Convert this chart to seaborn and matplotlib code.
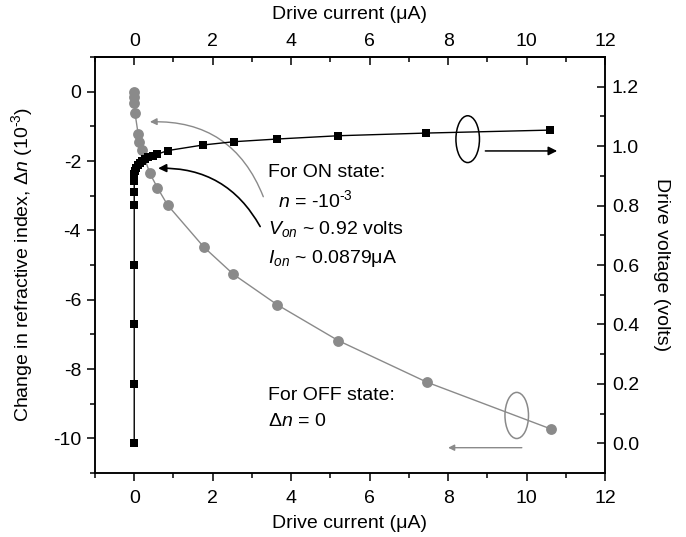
import matplotlib
matplotlib.use("Agg")
import matplotlib.pyplot as plt
from matplotlib.patches import Ellipse
from matplotlib.ticker import MultipleLocator, FormatStrFormatter
import seaborn as sns

# Refractive-index change versus drive current (left axis)
current_n = [0, 0, 0.003, 0.02, 0.10, 0.13, 0.19, 0.40, 0.59, 0.85,
             1.78, 2.53, 3.65, 5.20, 7.46, 10.62]
delta_n = [0, -0.14, -0.32, -0.62, -1.22, -1.44, -1.68, -2.36, -2.77, -3.27,
           -4.49, -5.27, -6.15, -7.18, -8.38, -9.73]

# Drive voltage versus drive current (right axis)
current_v = [0, 0, 0, 0, 0, 0, 0, 0.005, 0.02, 0.05, 0.09, 0.14, 0.20,
             0.27, 0.36, 0.47, 0.59, 0.85, 1.76, 2.55, 3.65, 5.20, 7.44, 10.60]
voltage = [0.0, 0.2, 0.4, 0.6, 0.803, 0.844, 0.884, 0.905, 0.917, 0.927,
           0.936, 0.944, 0.951, 0.957, 0.962, 0.967, 0.973, 0.985, 1.004,
           1.015, 1.024, 1.035, 1.044, 1.054]

x_ticks = [0, 2, 4, 6, 8, 10, 12]

sns.set_style("ticks", {"axes.edgecolor": "black", "xtick.color": "black",
                        "ytick.color": "black", "text.color": "black",
                        "axes.labelcolor": "black"})
plt.rcParams["font.family"] = ["Liberation Sans", "DejaVu Sans"]
plt.rcParams["mathtext.fontset"] = "custom"
plt.rcParams["mathtext.rm"] = "Liberation Sans"
plt.rcParams["mathtext.it"] = "Liberation Sans:italic"
plt.rcParams["axes.linewidth"] = 1.1
plt.rcParams["axes.unicode_minus"] = False

FS = 14
GRAY = "#8a8a8a"
EXP = "10$^{\\text{-3}}$"

fig = plt.figure(figsize=(6.86, 5.37), dpi=100)
ax = fig.add_axes([95 / 686, 1 - 473 / 537, (605 - 95) / 686, (473 - 57) / 537])

sns.lineplot(x=current_n, y=delta_n, ax=ax, sort=False, estimator=None,
             color=GRAY, lw=1.0, marker="o", markersize=7.8,
             markeredgewidth=0, markerfacecolor=GRAY, zorder=3)

ax2 = ax.twinx()
sns.lineplot(x=current_v, y=voltage, ax=ax2, sort=False, estimator=None,
             color="black", lw=1.0, marker="s", markersize=5.8,
             markeredgewidth=0, markerfacecolor="black", zorder=4)

ax.set_xlim(-1, 12)
ax.set_ylim(-11, 1)
ax2.set_ylim(-0.1, 1.3)

ax.set_xticks(x_ticks)
ax.xaxis.set_minor_locator(MultipleLocator(1))
ax.yaxis.set_major_locator(MultipleLocator(2))
ax.yaxis.set_minor_locator(MultipleLocator(1))
ax2.yaxis.set_major_locator(MultipleLocator(0.2))
ax2.yaxis.set_minor_locator(MultipleLocator(0.1))
ax2.yaxis.set_major_formatter(FormatStrFormatter("%.1f"))

ax.tick_params(axis="both", which="major", direction="out", length=6,
               width=1.1, labelsize=FS, pad=4)
ax.tick_params(axis="both", which="minor", direction="out", length=3.5,
               width=1.1)
ax.tick_params(axis="x", which="major", pad=6)
ax2.tick_params(axis="y", which="major", direction="in", length=6,
                width=1.1, labelsize=FS, pad=5)
ax2.tick_params(axis="y", which="minor", direction="in", length=3.5,
                width=1.1)

top = ax.secondary_xaxis("top")
top.set_xticks(x_ticks)
top.xaxis.set_minor_locator(MultipleLocator(1))
top.tick_params(axis="x", which="major", direction="in", length=6,
                width=1.1, labelsize=FS, pad=5)
top.tick_params(axis="x", which="minor", direction="in", length=3.5,
                width=1.1)
top.set_xlabel("Drive current (μA)", fontsize=FS, labelpad=10)

ax.set_xlabel("Drive current (μA)", fontsize=FS, labelpad=6)
ax.set_ylabel("Change in refractive index, Δ$n$ (" + EXP + ")", fontsize=FS,
              labelpad=13)
ax2.set_ylabel("Drive voltage (volts)", fontsize=FS, rotation=270,
               labelpad=22)

# Ellipses marking which curve belongs to which axis
ax.add_patch(Ellipse((8.5, -1.37), 0.6, 1.35, fill=False, ec="black",
                     lw=1.1, zorder=5))
ax.annotate("", xy=(10.78, -1.71), xytext=(8.95, -1.71),
            arrowprops=dict(arrowstyle="-|>", color="black", lw=1.1,
                            mutation_scale=13, shrinkA=0, shrinkB=0))
ax.add_patch(Ellipse((9.75, -9.34), 0.6, 1.33, fill=False, ec=GRAY,
                     lw=1.1, zorder=5))
ax.annotate("", xy=(8.0, -10.27), xytext=(9.88, -10.27),
            arrowprops=dict(arrowstyle="-|>", color=GRAY, lw=1.0,
                            mutation_scale=9, shrinkA=0, shrinkB=0))

# ON-state notes with curved pointers
ax.annotate("", xy=(0.40, -0.87), xytext=(3.29, -3.03),
            arrowprops=dict(arrowstyle="-|>", color=GRAY, lw=1.0,
                            mutation_scale=10, shrinkA=0, shrinkB=0,
                            connectionstyle="arc3,rad=0.35"))
ax.annotate("", xy=(0.61, -2.21), xytext=(3.21, -3.89),
            arrowprops=dict(arrowstyle="-|>", color="black", lw=1.2,
                            mutation_scale=12, shrinkA=0, shrinkB=0,
                            connectionstyle="arc3,rad=0.3"))

ax.text(3.42, -2.33, "For ON state:", fontsize=FS, va="center")
ax.text(3.67, -3.13, "$\\it{n}$ = -" + EXP, fontsize=FS, va="center")
ax.text(3.42, -3.95, "$V_{on}$ ~ 0.92 volts", fontsize=FS, va="center")
ax.text(3.42, -4.80, "$I_{on}$ ~ 0.0879μA", fontsize=FS, va="center")

ax.text(3.42, -8.76, "For OFF state:", fontsize=FS, va="center")
ax.text(3.42, -9.50, "Δ$n$ = 0", fontsize=FS, va="center")

fig.savefig("out.png", dpi=100)
